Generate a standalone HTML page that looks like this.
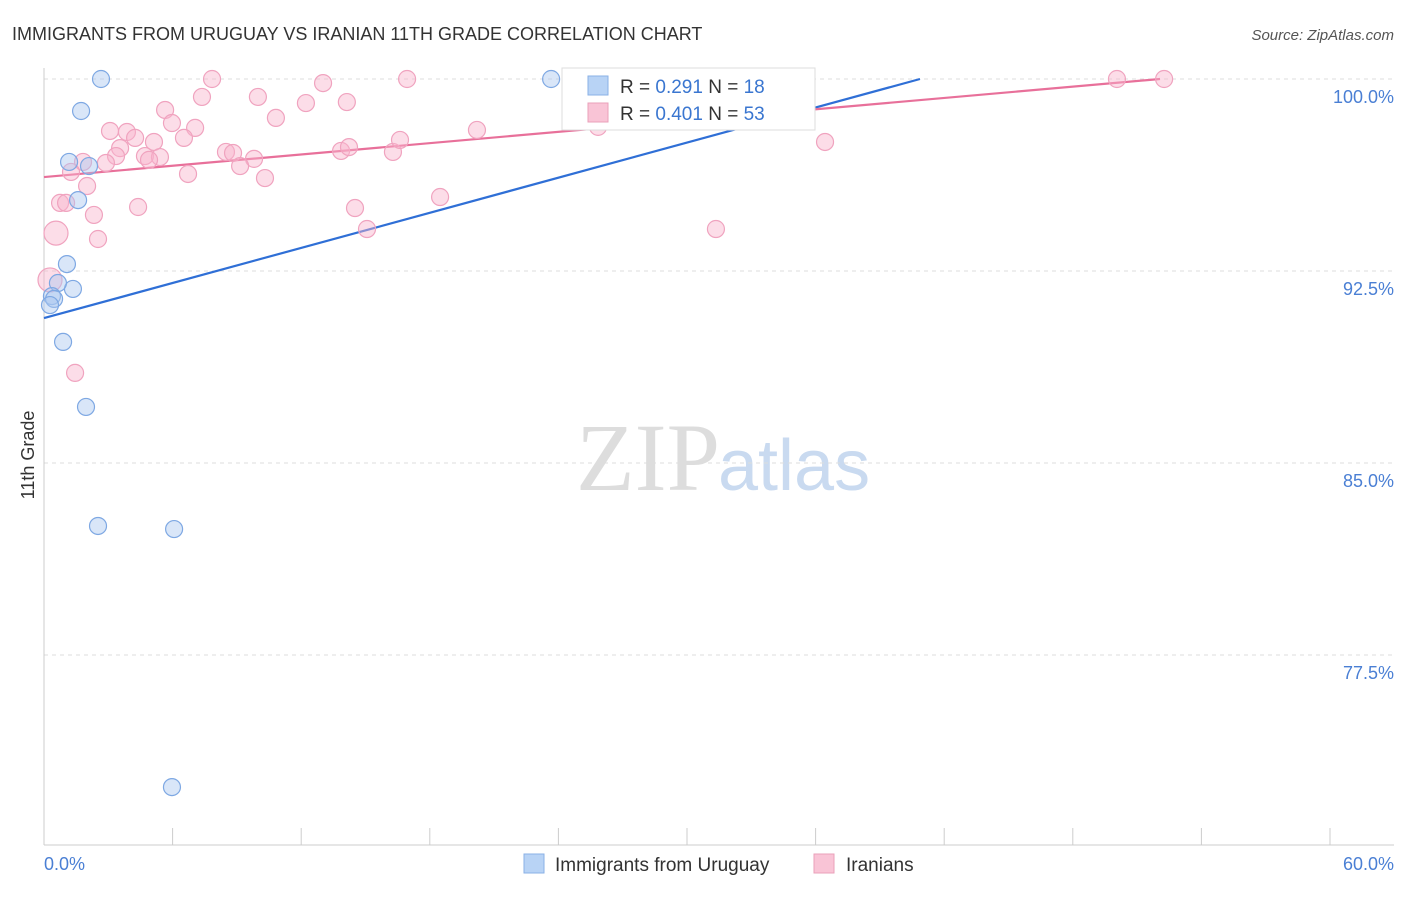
<!DOCTYPE html>
<html><head><meta charset="utf-8"><style>
body{margin:0;background:#fff;font-family:"Liberation Sans",sans-serif;}
</style></head><body>
<svg width="1406" height="892" xmlns="http://www.w3.org/2000/svg" font-family="Liberation Sans, sans-serif">
<text x="12" y="40" font-size="18" fill="#333">IMMIGRANTS FROM URUGUAY VS IRANIAN 11TH GRADE CORRELATION CHART</text>
<text x="1394" y="40" font-size="15" fill="#555" font-style="italic" text-anchor="end">Source: ZipAtlas.com</text>
<text x="720" y="490" font-size="96" fill="#ddd" text-anchor="end" font-family="Liberation Serif, serif">ZIP</text>
<text x="718" y="490" font-size="72" fill="#c9daf0">atlas</text>
<g id="grid"></g><g id="axes"></g><g id="lines"></g><g id="pts"></g>
<text transform="translate(34,455) rotate(-90)" font-size="18" fill="#333" text-anchor="middle">11th Grade</text>
<text x="44" y="870" font-size="18" fill="#4a7fd4">0.0%</text>
<text x="1394" y="870" font-size="18" fill="#4a7fd4" text-anchor="end">60.0%</text>
<g>
<rect x="562" y="68" width="253" height="62" fill="#fff" stroke="#ddd"/>
<rect x="588" y="76" width="20" height="19" fill="#b8d3f5" stroke="#8ab0e6"/>
<text x="620" y="93" font-size="19" fill="#333">R = <tspan fill="#3a76d0">0.291</tspan>   N = <tspan fill="#3a76d0">18</tspan></text>
<rect x="588" y="103" width="20" height="19" fill="#f9c4d6" stroke="#eaa0ba"/>
<text x="620" y="120" font-size="19" fill="#333">R = <tspan fill="#3a76d0">0.401</tspan>   N = <tspan fill="#3a76d0">53</tspan></text>
</g>
<g>
<rect x="524" y="854" width="20" height="19" fill="#b8d3f5" stroke="#8ab0e6"/>
<text x="555" y="871" font-size="19" fill="#333">Immigrants from Uruguay</text>
<rect x="814" y="854" width="20" height="19" fill="#f9c4d6" stroke="#eaa0ba"/>
<text x="846" y="871" font-size="19" fill="#333">Iranians</text>
</g>
</svg>
<script>
const yTicks=[100,92.5,85,77.5];
const yTickLabels=["100.0%","92.5%","85.0%","77.5%"];
const blueX=[2.66,1.73,23.66,1.17,2.10,1.59,1.07,1.35,0.65,0.37,0.47,0.28,0.89,1.96,2.52,6.07,5.97,35.37];
const blueY=[100,98.75,100,96.76,96.6,95.27,92.77,91.8,92.03,91.52,91.41,91.17,89.73,87.19,82.54,82.42,72.34,100];
const pinkX=[7.84,13.02,16.94,50.06,52.26,35.27,5.65,7.37,9.98,12.22,14.13,10.82,5.97,3.08,3.87,4.25,5.13,7.05,6.53,3.55,3.36,2.89,1.82,1.26,4.71,5.41,4.90,8.49,8.82,9.80,9.15,6.72,10.31,13.86,14.23,16.28,16.61,20.20,25.85,36.44,2.01,0.75,1.03,2.33,4.39,0.56,2.52,14.51,15.07,18.48,31.35,1.45,0.28];
const pinkY=[100,99.84,100,100,100,100,98.79,99.30,99.30,99.06,99.10,98.48,98.28,97.97,97.93,97.70,97.54,98.09,97.70,97.30,96.99,96.72,96.76,96.37,96.99,96.95,96.84,97.15,97.11,96.88,96.60,96.29,96.13,97.19,97.34,97.15,97.62,98.01,98.13,97.54,95.82,95.16,95.16,94.69,95.00,93.98,93.75,94.96,94.14,95.39,94.14,88.52,92.15];
const blueLine=[[0,90.66],[40.87,100]];
const pinkLine=[[0,96.17],[52.07,100]];
const X=v=>44+v/60*1286, Y=v=>79+(100-v)*25.6;
const NS="http://www.w3.org/2000/svg";
function mk(t,a,p){const e=document.createElementNS(NS,t);for(const k in a)e.setAttribute(k,a[k]);p.appendChild(e);return e;}
const grid=document.getElementById('grid'),axes=document.getElementById('axes'),lines=document.getElementById('lines'),pts=document.getElementById('pts');
yTicks.forEach((v,i)=>{
 const l=mk('line',{x1:44,x2:1394,y1:Y(v),y2:Y(v),stroke:'#ddd','stroke-dasharray':'4,4'},grid);
 
 
 const t=mk('text',{x:1394,y:Y(v)+24,'font-size':18,fill:'#4a7fd4','text-anchor':'end'},grid);
 t.textContent=yTickLabels[i];
 
 
});
const ya=mk('line',{x1:44,x2:44,y1:68,y2:845,stroke:'#ccc'},axes);


const xa=mk('line',{x1:44,x2:1394,y1:845,y2:845,stroke:'#ccc'},axes);


for(let i=0;i<=10;i++){const tk=mk('line',{x1:X(i*6),x2:X(i*6),y1:828,y2:845,stroke:'#ccc'},axes);
 
 }
function pt(x,y,fill,stroke,nm,r){const c=mk('circle',{cx:X(x),cy:Y(y),r:r,fill:fill,stroke:stroke,'stroke-width':1.2},pts);
 
 }
pinkX.forEach((x,i)=>pt(x,pinkY[i],'rgba(248,180,204,0.45)','#f0a3bf','iranian-point',(i==45||i==52)?12:8.5));
blueX.forEach((x,i)=>pt(x,blueY[i],'rgba(170,200,240,0.45)','#7ea8e3','uruguay-point',8.5));
const bl=mk('line',{x1:X(blueLine[0][0]),y1:Y(blueLine[0][1]),x2:X(blueLine[1][0]),y2:Y(blueLine[1][1]),stroke:'#2f6fd6','stroke-width':2.2},lines);


const pl=mk('line',{x1:X(pinkLine[0][0]),y1:Y(pinkLine[0][1]),x2:X(pinkLine[1][0]),y2:Y(pinkLine[1][1]),stroke:'#e8709a','stroke-width':2.2},lines);


</script>
</body></html>
